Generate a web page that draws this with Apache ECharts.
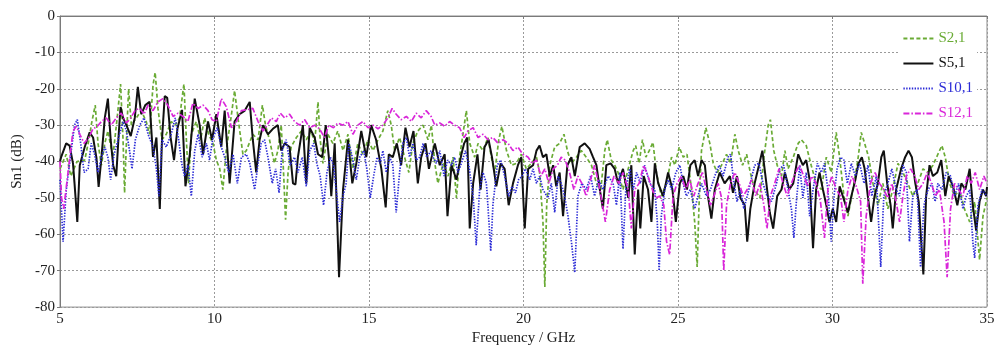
<!DOCTYPE html>
<html>
<head>
<meta charset="utf-8">
<script src="https://cdn.jsdelivr.net/npm/echarts@6/dist/echarts.min.js"></script>
<style>
  html, body { margin: 0; padding: 0; background: #fff; }
  #chart { width: 999px; height: 351px; }
</style>
</head>
<body>
<div id="chart"></div>
<script>
// Measured transmission traces, [frequency (GHz), magnitude (dB)]
const s2_1 = [[5.00,-42],[5.20,-38],[5.35,-44],[5.55,-40],[5.80,-39.6],[5.96,-33],[6.01,-30],[6.14,-24.5],[6.23,-35],[6.34,-41],[6.45,-35],[6.55,-31.6],[6.71,-38.8],[6.85,-28],[6.96,-18.7],[7.04,-34],[7.09,-48.6],[7.17,-30],[7.22,-20],[7.31,-30],[7.47,-28],[7.63,-26],[7.79,-29],[7.90,-32.5],[8.01,-19],[8.08,-15.5],[8.17,-25.4],[8.30,-34],[8.44,-32.5],[8.60,-29],[8.73,-30],[8.87,-28],[9.01,-18.7],[9.09,-34],[9.16,-46],[9.25,-32.5],[9.41,-29],[9.55,-34],[9.68,-28],[9.81,-32.5],[9.95,-35],[10.06,-39.6],[10.17,-42],[10.27,-47.7],[10.38,-37],[10.55,-27],[10.65,-20.5],[10.76,-28],[10.92,-38],
[11.03,-37],[11.24,-32.5],[11.41,-34],[11.55,-24.5],[11.65,-30],[11.78,-34],[11.94,-40.5],[12.05,-37],[12.16,-30],[12.24,-44],[12.30,-56],[12.38,-43],[12.48,-36],[12.65,-33.4],[12.81,-31.6],[12.97,-34],[13.13,-31.6],[13.24,-35],[13.35,-23.6],[13.42,-34],[13.51,-40.5],[13.67,-32.5],[13.83,-35],[13.99,-31.6],[14.16,-37],[14.32,-32.5],[14.48,-42],[14.64,-35],[14.80,-38],[14.97,-34],[15.13,-37],[15.29,-34],[15.45,-31.6],[15.61,-26],[15.72,-30],[15.83,-37],[15.99,-33.4],[16.15,-38.8],[16.29,-43],[16.42,-35],[16.58,-31.6],[16.75,-30],[16.91,-34],
[17.02,-30],[17.13,-40.5],[17.23,-46],[17.40,-40.5],[17.56,-44],[17.72,-38.8],[17.83,-50],[17.93,-38.8],[18.04,-32.5],[18.15,-26],[18.26,-35],[18.42,-38.8],[18.53,-35],[18.69,-37],[18.85,-33.4],[18.96,-38.8],[19.07,-43],[19.20,-34],[19.30,-30.3],[19.45,-37],[19.61,-41],[19.77,-40.5],[19.93,-38],[20.09,-42],[20.25,-40.5],[20.42,-38.8],[20.52,-43],[20.63,-56.6],[20.69,-74.5],[20.75,-52],[20.85,-41],[21.01,-36],[21.17,-35],[21.31,-32.5],[21.42,-37],[21.55,-40.5],[21.71,-38.8],[21.87,-37],[22.03,-38.8],[22.20,-41],[22.36,-46],[22.50,-47.7],[22.63,-37],[22.71,-34],[22.84,-39.6],
[22.95,-41],[23.06,-43],[23.22,-47.7],[23.39,-42],[23.55,-37],[23.63,-35.6],[23.74,-40.5],[23.85,-34],[23.96,-38.8],[24.07,-37],[24.19,-34.7],[24.30,-43],[24.46,-49.5],[24.63,-46],[24.79,-38.8],[24.90,-41],[25.04,-36],[25.17,-38.8],[25.29,-38],[25.44,-47.7],[25.54,-56.6],[25.62,-69],[25.68,-52],[25.76,-37],[25.90,-30.7],[26.03,-35],[26.14,-40.5],[26.27,-43],[26.41,-41],[26.57,-38],[26.70,-40.5],[26.84,-32.5],[26.95,-37],[27.09,-41],[27.22,-38],[27.34,-43],[27.48,-47.7],[27.65,-50],[27.78,-38.8],[27.92,-30],[27.99,-28.5],[28.10,-37],[28.21,-41],[28.35,-44],[28.46,-37],[28.56,-42],[28.73,-38.8],[28.89,-35],
[28.99,-34],[29.15,-35.6],[29.31,-41],[29.47,-46],[29.64,-47.7],[29.80,-38.8],[29.96,-43],[30.12,-32],[30.23,-38.8],[30.37,-49.5],[30.50,-55],[30.66,-47.7],[30.82,-39.6],[30.93,-32],[31.04,-35],[31.17,-38.8],[31.31,-46],[31.47,-52],[31.63,-46],[31.79,-53],[31.95,-47.7],[32.12,-40.5],[32.28,-43],[32.44,-46],[32.60,-49.5],[32.76,-46],[32.93,-42],[33.09,-43],[33.25,-41],[33.41,-38],[33.54,-35.6],[33.65,-38.8],[33.79,-46],[33.95,-49.5],[34.11,-47.7],[34.27,-53],[34.44,-56.6],[34.60,-51],[34.76,-67],[34.87,-55],[35.00,-50]];

const s5_1 = [[5.00,-40],[5.04,-38.7],[5.20,-35],[5.31,-35.6],[5.42,-40.5],[5.47,-46],[5.56,-56.6],[5.64,-41],[5.80,-36],[5.96,-32],[6.07,-33.4],[6.18,-39],[6.25,-47],[6.34,-39],[6.45,-28],[6.55,-22.7],[6.64,-34],[6.72,-41],[6.82,-44],[6.90,-32.5],[6.96,-25],[7.04,-28],[7.15,-30],[7.29,-33],[7.42,-28],[7.52,-19.5],[7.63,-27],[7.76,-24.5],[7.90,-23.6],[8.01,-38.7],[8.12,-33.4],[8.23,-53],[8.30,-34],[8.39,-22],[8.47,-22.5],[8.58,-33.4],[8.69,-39.6],[8.80,-31],[8.95,-25.8],[9.06,-46.8],[9.20,-38],[9.36,-22.7],[9.52,-30],[9.63,-38],[9.79,-29],[9.92,-34],[10.06,-27],[10.22,-36],[10.33,-26],[10.49,-46],[10.65,-29],[10.81,-27],[10.98,-26],
[11.14,-23.6],[11.24,-34],[11.35,-43],[11.46,-34],[11.57,-30],[11.73,-32.5],[11.89,-31],[12.05,-30],[12.16,-37],[12.27,-35],[12.43,-36],[12.54,-46],[12.62,-46.3],[12.70,-38.8],[12.86,-30],[12.97,-46],[13.08,-30.7],[13.24,-33.4],[13.35,-38],[13.49,-38.8],[13.60,-30],[13.70,-38.8],[13.78,-49.5],[13.89,-35],[14.03,-71.8],[14.16,-47.7],[14.32,-34],[14.46,-46],[14.59,-40.5],[14.75,-31.6],[14.91,-38.8],[15.07,-30],[15.23,-34],[15.40,-42],[15.54,-52.6],[15.64,-38],[15.77,-38.8],[15.90,-35],[16.04,-41],[16.18,-30.7],[16.31,-36],[16.44,-31.6],[16.58,-46],[16.69,-38.8],[16.83,-35],[16.94,-42],
[17.13,-35],[17.29,-41],[17.45,-38],[17.54,-55],[17.67,-41],[17.83,-45],[17.99,-38],[18.08,-35],[18.18,-33.4],[18.26,-58.4],[18.37,-46],[18.51,-38],[18.61,-47.7],[18.74,-36],[18.87,-34],[18.98,-38.8],[19.12,-46.8],[19.26,-40.5],[19.39,-42],[19.52,-52],[19.66,-46],[19.82,-41],[19.93,-38.8],[20.04,-58.4],[20.15,-42],[20.31,-41],[20.42,-37],[20.52,-35.6],[20.63,-38.8],[20.74,-38],[20.85,-44],[20.96,-41],[21.06,-46.8],[21.17,-43],[21.28,-55],[21.42,-41],[21.55,-38.8],[21.66,-44],[21.82,-36],[21.98,-35],[22.14,-36.5],[22.25,-38.8],[22.36,-41],[22.47,-47.7],[22.57,-53],[22.68,-41],[22.82,-40.5],
[22.95,-42],[23.06,-46],[23.22,-42],[23.39,-50],[23.49,-41],[23.60,-65.5],[23.71,-47.7],[23.78,-58.4],[23.89,-44],[24.03,-47.7],[24.14,-56.6],[24.25,-40.5],[24.36,-46],[24.52,-49.5],[24.68,-43],[24.82,-47.7],[24.93,-56.6],[25.06,-46],[25.17,-44],[25.29,-47.7],[25.40,-41],[25.54,-39.6],[25.65,-44],[25.76,-39.6],[25.87,-41],[25.97,-49.5],[26.08,-55.7],[26.19,-47.7],[26.35,-43],[26.51,-46],[26.68,-44],[26.78,-48.6],[26.91,-44],[27.02,-50],[27.16,-52],[27.24,-62],[27.34,-53],[27.48,-46],[27.62,-41],[27.73,-37],[27.86,-46],[27.97,-54],[28.08,-58.4],[28.21,-49.5],[28.35,-47.7],[28.46,-43],[28.60,-47.7],[28.73,-46],[28.89,-38],
[29.04,-41],[29.15,-39.6],[29.26,-45],[29.37,-63.8],[29.47,-47.7],[29.58,-43],[29.69,-47.7],[29.80,-52],[29.90,-56.6],[30.01,-53],[30.12,-56.6],[30.23,-46.8],[30.39,-51],[30.50,-54],[30.61,-49.5],[30.74,-45],[30.84,-40.5],[30.95,-38.8],[31.04,-42],[31.15,-50],[31.25,-56.6],[31.36,-49.5],[31.47,-46],[31.58,-38.8],[31.66,-37],[31.77,-46],[31.88,-52],[31.95,-58.4],[32.06,-47.7],[32.22,-42],[32.35,-38.8],[32.46,-37],[32.57,-38.8],[32.68,-46],[32.79,-51],[32.87,-62],[32.94,-71],[33.03,-49.5],[33.14,-41],[33.25,-44],[33.39,-43],[33.52,-39.6],[33.65,-49.5],[33.76,-44],[33.90,-46.8],[34.04,-52],[34.17,-46],[34.30,-47.7],[34.44,-42],[34.54,-52],[34.65,-59],[34.76,-51],[34.87,-47.7],[34.97,-49.5],[35.00,-47]];

const s10_1 = [[5.00,-45],[5.10,-62],[5.20,-48],[5.31,-40.5],[5.47,-30],[5.56,-28.5],[5.67,-35],[5.78,-43],[5.91,-42],[6.01,-35],[6.12,-38],[6.23,-43],[6.34,-38.8],[6.45,-36],[6.55,-38.8],[6.64,-45],[6.75,-38],[6.88,-34],[7.04,-29],[7.15,-31.6],[7.25,-37],[7.33,-42],[7.44,-34],[7.58,-30],[7.72,-28],[7.85,-32.5],[8.01,-36],[8.12,-42],[8.20,-49.5],[8.30,-34],[8.44,-36],[8.60,-32.5],[8.73,-28],[8.84,-34],[8.95,-41],[9.03,-44],[9.14,-41],[9.25,-49.5],[9.36,-37],[9.47,-32.5],[9.60,-38.8],[9.74,-35],[9.84,-39.6],[9.95,-33.4],[10.09,-30.7],[10.22,-36],[10.33,-38.8],[10.46,-43],[10.60,-38],[10.74,-46],[10.87,-38.8],
[11.03,-38],[11.14,-40.5],[11.30,-47.7],[11.41,-40.5],[11.51,-35],[11.62,-34],[11.73,-38.8],[11.87,-46],[11.98,-42],[12.09,-48.6],[12.19,-37],[12.32,-34],[12.45,-41],[12.59,-38.8],[12.70,-43],[12.84,-38.8],[12.97,-46.8],[13.08,-37],[13.21,-35],[13.31,-40.5],[13.42,-44],[13.53,-52],[13.64,-43],[13.75,-38.8],[13.85,-41],[13.96,-49.5],[14.05,-56.6],[14.16,-49.5],[14.26,-46],[14.35,-35],[14.46,-38.8],[14.59,-45],[14.70,-38.8],[14.83,-37],[14.93,-42],[15.04,-50],[15.15,-44],[15.26,-38.8],[15.36,-40.5],[15.45,-37],[15.56,-43],[15.67,-38.8],[15.77,-41],[15.88,-54],[15.99,-43],[16.10,-35],[16.21,-33.4],[16.31,-38.8],[16.42,-35],[16.53,-39.6],[16.64,-38.8],[16.75,-35],[16.87,-38.8],
[17.01,-37],[17.07,-38.8],[17.18,-40.5],[17.29,-37],[17.43,-44],[17.54,-39.6],[17.67,-41],[17.77,-38.8],[17.88,-43],[17.99,-40.5],[18.12,-37],[18.23,-41],[18.37,-49.5],[18.47,-63],[18.58,-47.7],[18.69,-43],[18.80,-46],[18.87,-55],[18.94,-64.6],[19.01,-52],[19.15,-41],[19.26,-39.6],[19.39,-44],[19.52,-49.5],[19.63,-46.8],[19.74,-48.6],[19.84,-45],[19.95,-44],[20.06,-42],[20.20,-45],[20.31,-42],[20.42,-46],[20.52,-44],[20.63,-47.7],[20.79,-50],[20.90,-46],[21.01,-54],[21.12,-44],[21.22,-46],[21.33,-49.5],[21.44,-55],[21.55,-62],[21.66,-70.5],[21.76,-49.5],[21.89,-46],[22.03,-47.7],[22.17,-44],[22.30,-49.5],[22.43,-45],[22.57,-47.7],[22.74,-44],[22.90,-46],
[23.01,-52],[23.12,-43],[23.22,-64],[23.31,-47.7],[23.44,-42],[23.55,-47.7],[23.66,-43],[23.78,-46],[23.92,-41],[24.09,-46],[24.25,-47.7],[24.33,-56.6],[24.39,-70],[24.46,-55],[24.57,-47.7],[24.68,-45],[24.79,-47.7],[24.93,-43],[25.06,-41],[25.17,-46],[25.27,-49.5],[25.40,-47.7],[25.54,-53],[25.65,-49.5],[25.76,-46],[25.92,-49.5],[26.05,-47.7],[26.19,-44],[26.33,-41],[26.46,-44],[26.62,-38.8],[26.70,-38],[26.81,-46],[26.91,-51],[27.02,-47.7],[27.13,-53],[27.24,-49.5],[27.34,-46],[27.48,-41],[27.62,-40.5],[27.75,-46],[27.88,-49.5],[28.02,-51],[28.19,-46],[28.29,-42],[28.42,-41],[28.56,-47.7],[28.67,-53],[28.75,-61],[28.83,-51],[28.94,-41],
[29.04,-50],[29.15,-43],[29.26,-55],[29.37,-47.7],[29.51,-40.5],[29.64,-43],[29.74,-40.5],[29.85,-47.7],[29.96,-62],[30.05,-49.5],[30.15,-42],[30.26,-38.8],[30.37,-39.6],[30.48,-46],[30.61,-40.5],[30.74,-44],[30.88,-40.5],[31.02,-46],[31.15,-41],[31.27,-49.5],[31.42,-44],[31.56,-69],[31.66,-49.5],[31.79,-46],[31.92,-42],[32.06,-47.7],[32.17,-49.5],[32.28,-41],[32.39,-43],[32.49,-62],[32.60,-49.5],[32.74,-47.7],[32.85,-69],[32.96,-52],[33.09,-47.7],[33.22,-46],[33.32,-51],[33.41,-46],[33.54,-47.7],[33.68,-43],[33.82,-44],[33.95,-49.5],[34.08,-46],[34.22,-53],[34.33,-49.5],[34.44,-47.7],[34.54,-62],[34.60,-66.5],[34.71,-52],[34.84,-47.7],[35.00,-49.5]];

const s12_1 = [[5.00,-40],[5.05,-50],[5.12,-53],[5.26,-43],[5.42,-31.6],[5.53,-30.3],[5.64,-32.5],[5.78,-35],[5.93,-33.4],[6.07,-31],[6.21,-30.3],[6.34,-29],[6.50,-28],[6.66,-30],[6.82,-28],[6.98,-26.7],[7.15,-29.4],[7.29,-28],[7.44,-25.8],[7.58,-25.4],[7.72,-27],[7.85,-24.5],[8.01,-26],[8.17,-23.6],[8.33,-22.7],[8.49,-24.5],[8.66,-27.6],[8.82,-26.7],[8.98,-27.6],[9.14,-29],[9.30,-24],[9.47,-25.4],[9.63,-24.5],[9.79,-26],[9.92,-28.5],[10.06,-29],[10.22,-22.7],[10.38,-24.9],[10.55,-30.7],[10.71,-29],[10.87,-26],[11.03,-25.8],
[11.24,-25.4],[11.41,-29],[11.57,-31.6],[11.70,-30],[11.84,-28],[12.00,-29],[12.13,-26.7],[12.27,-28],[12.43,-27],[12.59,-29],[12.75,-30],[12.92,-28.5],[13.08,-30.7],[13.24,-30],[13.40,-31],[13.56,-33.4],[13.70,-30],[13.85,-30.7],[13.99,-29.4],[14.16,-30],[14.32,-29],[14.48,-32.5],[14.64,-30],[14.80,-29],[14.97,-30.7],[15.13,-30],[15.29,-31],[15.45,-30],[15.61,-28],[15.75,-25.4],[15.88,-27],[16.04,-28.5],[16.21,-27.6],[16.37,-29],[16.53,-26.7],[16.69,-28],[16.85,-26],[17.01,-27.6],
[17.13,-30],[17.29,-29.4],[17.45,-30.3],[17.61,-29],[17.77,-30],[17.93,-30.7],[18.08,-33.4],[18.20,-31.6],[18.37,-30.7],[18.53,-33.4],[18.69,-32.5],[18.85,-34],[19.01,-33.4],[19.18,-35],[19.34,-34],[19.50,-35],[19.66,-37],[19.82,-36],[19.98,-38],[20.15,-38.8],[20.28,-40.5],[20.42,-39.6],[20.56,-44],[20.69,-42],[20.82,-46],[20.96,-42],[21.10,-41],[21.22,-38.8],[21.35,-39.6],[21.49,-43],[21.63,-47.7],[21.76,-44],[21.89,-46],[22.03,-49.5],[22.17,-45],[22.30,-41],[22.43,-46],[22.54,-51],[22.65,-56.6],[22.79,-47.7],[22.93,-44],
[23.09,-46],[23.22,-43],[23.39,-47.7],[23.49,-58.4],[23.60,-47.7],[23.74,-46],[23.89,-41],[24.03,-44],[24.17,-47.7],[24.28,-50],[24.41,-49.5],[24.54,-52],[24.63,-62],[24.73,-65.6],[24.84,-49.5],[24.97,-46],[25.11,-44],[25.25,-47.7],[25.38,-45],[25.51,-49.5],[25.65,-46],[25.79,-43],[25.92,-47.7],[26.05,-52],[26.16,-49.5],[26.30,-46],[26.41,-50],[26.48,-70],[26.57,-52],[26.70,-46],[26.84,-43],[26.98,-46],[27.11,-49.5],[27.24,-47.7],[27.38,-45],[27.52,-49.5],[27.65,-46],[27.78,-52],[27.88,-58.4],[27.99,-49.5],[28.13,-46],[28.27,-42],[28.40,-46],[28.53,-49.5],[28.67,-46],[28.81,-43],[28.93,-41],
[29.07,-44],[29.20,-46.8],[29.33,-44],[29.47,-46],[29.61,-51],[29.74,-61],[29.85,-47.7],[29.98,-44],[30.12,-47.7],[30.26,-49.5],[30.37,-56.6],[30.50,-47.7],[30.63,-44],[30.77,-46.8],[30.91,-51],[30.98,-73.6],[31.09,-55],[31.23,-46],[31.38,-43],[31.52,-46],[31.66,-47.7],[31.79,-50],[31.92,-46],[32.06,-51],[32.17,-56.6],[32.28,-49.5],[32.39,-44],[32.53,-42],[32.66,-44],[32.79,-47.7],[32.93,-46],[33.07,-43],[33.20,-46],[33.33,-49.5],[33.46,-47.7],[33.61,-56.6],[33.71,-71.8],[33.82,-53],[33.95,-46],[34.08,-47.7],[34.22,-49.5],[34.36,-44],[34.49,-46],[34.62,-43],[34.76,-47.7],[34.90,-44],[35.00,-46]];

const seriesNames = ['S2,1', 'S5,1', 'S10,1', 'S12,1'];
const seriesColors = ['#6aab35', '#111111', '#2b2bd6', '#d926d9'];
const FONT = "'Liberation Serif', 'Times New Roman', serif";

const traces = [
  { data: s2_1, width: 1.7, type: [4, 2.5] },
  { data: s5_1, width: 2, type: 'solid' },
  { data: s10_1, width: 1.7, type: [1.4, 1.4] },
  { data: s12_1, width: 1.7, type: [6, 2, 1.5, 2] }
];

const chart = echarts.init(document.getElementById('chart'), null, { renderer: 'canvas' });

chart.setOption({
  animation: false,
  backgroundColor: '#ffffff',
  grid: {
    left: 60, right: 12, top: 16, bottom: 38,
    show: true, borderColor: '#8c8c8c', borderWidth: 1
  },
  legend: {
    orient: 'vertical',
    right: 22,
    top: 29,
    itemWidth: 30,
    itemHeight: 12,
    itemGap: 10,
    backgroundColor: '#ffffff',
    padding: [2, 4, 2, 4],
    itemStyle: { opacity: 0 },
    textStyle: { fontFamily: FONT, fontSize: 15 },
    data: seriesNames.map((n, i) => ({ name: n, textStyle: { color: seriesColors[i] } }))
  },
  xAxis: {
    type: 'value',
    min: 5, max: 35, interval: 5,
    name: 'Frequency / GHz',
    nameLocation: 'middle',
    nameGap: 22,
    nameTextStyle: { fontFamily: FONT, fontSize: 15, color: '#222' },
    axisLine: { lineStyle: { color: '#7a7a7a' } },
    axisTick: { show: true, length: 3, lineStyle: { color: '#7a7a7a' } },
    axisLabel: { fontFamily: FONT, fontSize: 15, color: '#222', margin: 4 },
    splitLine: { show: true, lineStyle: { color: '#9a9a9a', type: [2, 2], width: 1 } }
  },
  yAxis: {
    type: 'value',
    min: -80, max: 0, interval: 10,
    name: 'Sn1 (dB)',
    nameLocation: 'middle',
    nameGap: 30,
    nameRotate: 90,
    nameTextStyle: { fontFamily: FONT, fontSize: 15, color: '#222' },
    axisLine: { show: true, lineStyle: { color: '#7a7a7a' } },
    axisTick: { show: true, length: 3, lineStyle: { color: '#7a7a7a' } },
    axisLabel: { fontFamily: FONT, fontSize: 15, color: '#222', margin: 5 },
    splitLine: { show: true, lineStyle: { color: '#9a9a9a', type: [2, 2], width: 1 } }
  },
  series: traces.map((t, i) => ({
    name: seriesNames[i],
    type: 'line',
    data: t.data,
    symbol: 'none',
    smooth: false,
    clip: true,
    color: seriesColors[i],
    lineStyle: { color: seriesColors[i], width: t.width, type: t.type }
  }))
});
</script>
</body>
</html>
